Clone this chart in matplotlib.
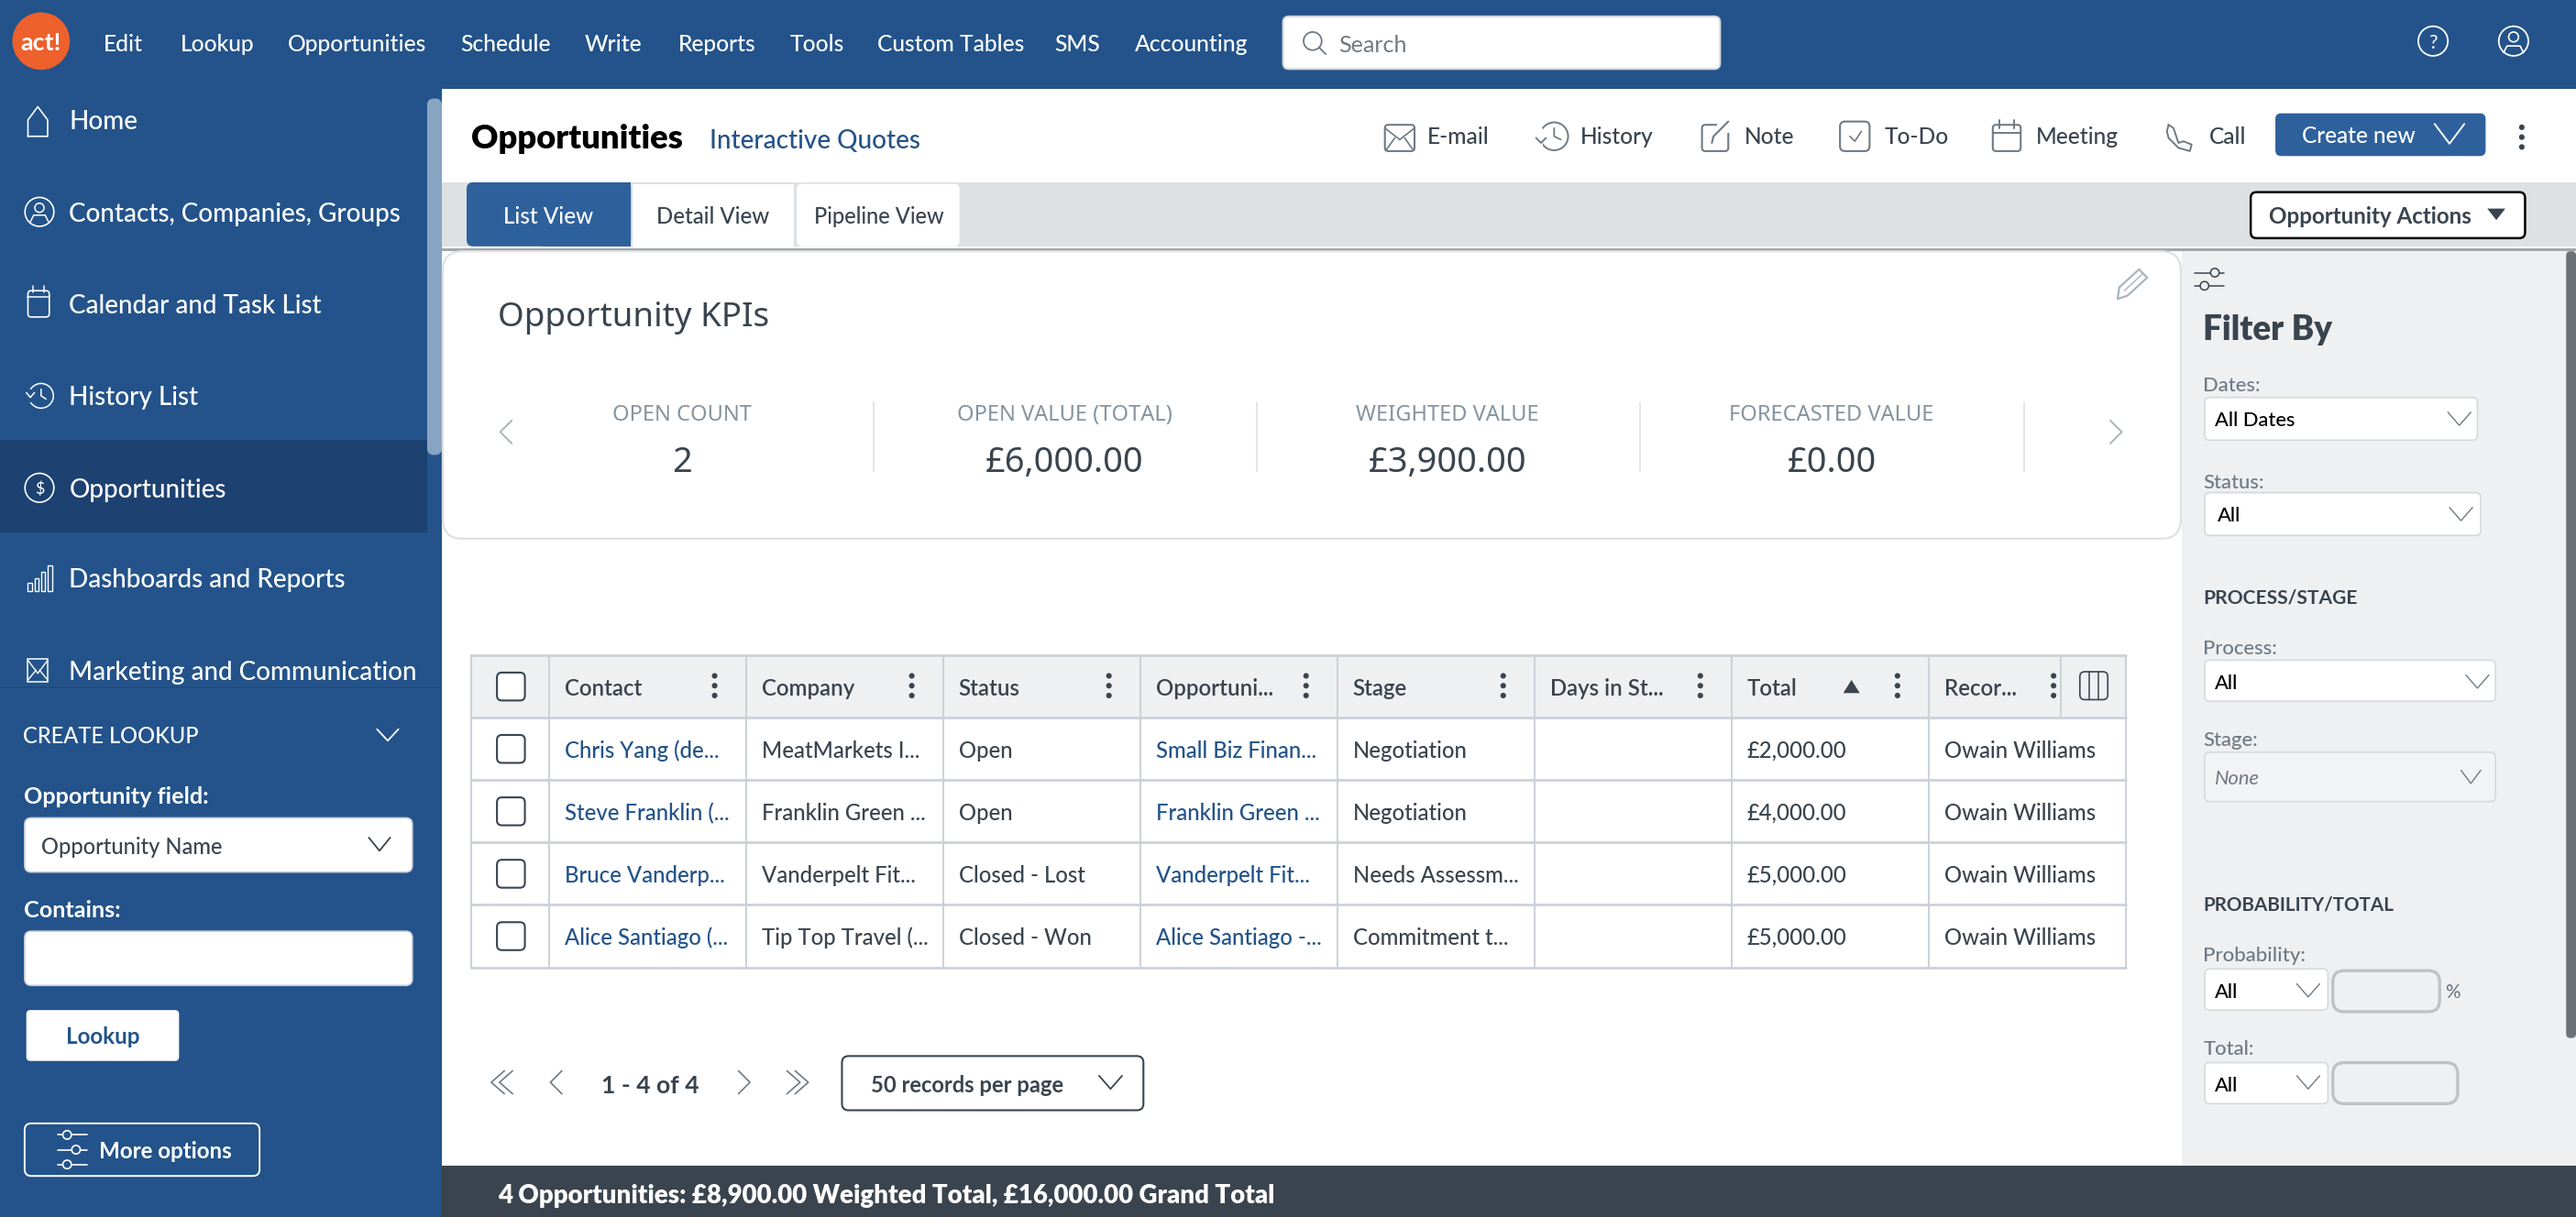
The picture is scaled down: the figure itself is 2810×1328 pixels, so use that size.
from matplotlib import pyplot as plt
from matplotlib.patches import FancyBboxPatch, Circle, Rectangle, Polygon

plt.rcParams["font.family"] = ["Lato", "DejaVu Sans"]

menu_labels = ["Edit", "Lookup", "Opportunities", "Schedule", "Write", "Reports", "Tools", "Custom Tables", "SMS", "Accounting"]
menu_x = [63, 110, 175, 280, 356, 413, 481, 534, 642, 691]
nav_labels = ["Home", "Contacts, Companies, Groups", "Calendar and Task List", "History List", "Opportunities", "Dashboards and Reports", "Marketing and Communication"]
nav_y = [73, 129, 185, 241, 297, 352, 408]
action_labels = ["E-mail", "History", "Note", "To-Do", "Meeting", "Call"]
action_x = [869, 962, 1062, 1147, 1239, 1345]
tab_labels = ["List View", "Detail View", "Pipeline View"]
kpi_labels = ["OPEN COUNT", "OPEN VALUE (TOTAL)", "WEIGHTED VALUE", "FORECASTED VALUE"]
kpi_values = ["2", "£6,000.00", "£3,900.00", "£0.00"]
kpi_x = [415, 648, 881, 1115]
columns = ["Contact", "Company", "Status", "Opportuni...", "Stage", "Days in St...", "Total", "Recor..."]
contacts = ["Chris Yang (de...", "Steve Franklin (...", "Bruce Vanderp...", "Alice Santiago (..."]
companies = ["MeatMarkets I...", "Franklin Green ...", "Vanderpelt Fit...", "Tip Top Travel (..."]
statuses = ["Open", "Open", "Closed - Lost", "Closed - Won"]
opportunities = ["Small Biz Finan...", "Franklin Green ...", "Vanderpelt Fit...", "Alice Santiago -..."]
stages = ["Negotiation", "Negotiation", "Needs Assessm...", "Commitment t..."]
totals = ["£2,000.00", "£4,000.00", "£5,000.00", "£5,000.00"]
owners = ["Owain Williams", "Owain Williams", "Owain Williams", "Owain Williams"]

BLUE = "#23538A"
BTN = "#2E619C"
DARK = "#1D4170"
LINE = "#CDD2D9"
PANEL = "#EEF0F2"
INK = "#3A444E"
LINK = "#23538A"
GREY = "#6F7A84"
KPI = "#85949F"

fig = plt.figure(figsize=(28.1, 13.28), dpi=100)
ax = fig.add_axes([0, 0, 1, 1])
ax.set_xlim(0, 1568)
ax.set_ylim(741, 0)
ax.axis("off")


def box(x0, y0, x1, y1, r=0, fc="white", ec="none", lw=0, z=1):
    if r == 0:
        ax.add_patch(Rectangle((x0, y0), x1 - x0, y1 - y0, fc=fc, ec=ec, lw=lw, zorder=z))
    else:
        ax.add_patch(FancyBboxPatch((x0, y0), x1 - x0, y1 - y0, boxstyle=f"round,pad=0,rounding_size={r}", fc=fc, ec=ec, lw=lw, zorder=z))


def txt(x, y, s, size=14, color=INK, ha="left", weight="normal", **kw):
    # size is css px on the 1568 wide picture
    ax.text(x, y, s, fontsize=size * 1.29, color=color, ha=ha, va="center_baseline", fontweight=weight, zorder=5, **kw)


def pl(xs, ys, color=INK, lw=1.5, z=4):
    ax.plot(xs, ys, color=color, lw=lw, zorder=z, solid_capstyle="round", solid_joinstyle="round")


def chev(x, y, w, h, color=GREY, lw=1.5):
    pl([x - w, x, x + w], [y - h, y + h, y - h], color, lw)


def side(x, y, w, h, color=GREY, lw=1.5):
    # w > 0 points right
    pl([x - w, x + w, x - w], [y - h, y, y + h], color, lw)


def ring(x, y, r, color, lw=1.5, fc="none"):
    ax.add_patch(Circle((x, y), r, fc=fc, ec=color, lw=lw, zorder=4))


def dots(x, y, color=INK):
    for d in (-6, 0, 6):
        ax.add_patch(Circle((x, y + d), 1.7, fc=color, ec="none", zorder=4))


def sliders(x, y, w, color, lw=1.4, n=2):
    gap = 8 if n == 2 else 9
    ys = [y - gap / 2, y + gap / 2] if n == 2 else [y - gap, y, y + gap]
    kn = [x + w * 0.35, x - w * 0.35, x - w * 0.35][:n] if n == 2 else [x - w * 0.35, x + w * 0.25, x - w * 0.35]
    for yy, k in zip(ys, kn):
        pl([x - w, x + w], [yy, yy], color, lw)
        ring(k, yy, 2.6, color, lw, fc=BLUE if color == "white" else PANEL)


# page areas
box(0, 0, 1568, 54, fc=BLUE)
box(0, 54, 269, 741, fc=BLUE)
box(0, 268, 260, 324, fc=DARK)
box(260, 60, 269, 277, r=4, fc="#87A4C2")
box(269, 111, 1568, 150, fc="#DDE1E4")
box(269, 151, 1568, 153, fc="#A3A6A8")
box(1328, 153, 1568, 710, fc=PANEL)
box(1562, 153, 1568, 632, r=2.5, fc="#6B7278", z=3)
box(269, 710, 1568, 741, fc=INK)

# top bar
ax.add_patch(Circle((25, 25), 17.5, fc="#EE602C", ec="none", zorder=3))
txt(25, 25, "act!", 15, "white", ha="center", weight="bold")
for label, x in zip(menu_labels, menu_x):
    txt(x, 26, label, 13.75, "white", weight=500)
box(781, 10, 1047, 42, r=3.5, fc="white", ec="#D5D8DC", lw=1.5)
ring(799, 25, 5.5, GREY, 1.3)
pl([803, 807], [29, 33], GREY, 1.3)
txt(815, 26.5, "Search", 14, GREY)
ring(1481, 25, 9, "white", 1.3)
txt(1481, 25, "?", 12, "white", ha="center")
ring(1530, 25, 9, "white", 1.3)
ring(1530, 22.5, 3, "white", 1.2)
pl([1524, 1526, 1534, 1536], [32, 28, 28, 32], "white", 1.2)

# side menu
for label, y in zip(nav_labels, nav_y):
    txt(42, y, label, 15.55, "white", weight=500)
pl([17, 17, 23, 29, 29, 17], [83, 73, 65, 73, 83, 83], "white", 1.2)
ring(24, 129, 8.8, "white", 1.2)
ring(24, 126.5, 2.8, "white", 1.1)
pl([18.5, 20.5, 27.5, 29.5], [135, 131, 131, 135], "white", 1.1)
box(17, 177, 30, 193, r=2, fc="none", ec="white", lw=1.2, z=4)
pl([17, 30], [181, 181], "white", 1.1)
pl([20, 20], [174, 178], "white", 1.1)
pl([27, 27], [174, 178], "white", 1.1)
ring(25, 241, 7.5, "white", 1.1)
box(16, 237, 20, 245, fc=BLUE, z=4)
pl([16, 18.5, 21], [239, 242, 239], "white", 1.1, z=5)
pl([25, 25, 28], [237, 241, 243], "white", 1.1)
ring(24, 297, 8.8, "white", 1.2)
txt(24, 297, "$", 10, "white", ha="center")
for bx, h in zip([17, 21, 25, 29], [5, 8, 12, 16]):
    box(bx, 360 - h, bx + 2.6, 360, fc="none", ec="white", lw=1, z=4)
box(17, 401, 29, 415, fc="none", ec="white", lw=1.1, z=4)
pl([17, 23, 29], [402, 410, 402], "white", 1)
pl([17, 22], [414, 408], "white", 1)
pl([29, 24], [414, 408], "white", 1)

# lookup panel
box(0, 419, 260, 741, fc=BLUE, z=2)
ax.add_patch(Rectangle((0, 418), 269, 1, fc="#1F4B7E", ec="none", zorder=3))
txt(14, 447.5, "CREATE LOOKUP", 13.2, "white", weight=500)
chev(236, 447.5, 6.5, 3.5, "white", 1.3)
txt(14.5, 484, "Opportunity field:", 14, "white", weight="bold")
box(15, 498, 251, 531, r=4, fc="white", ec="#C9CFD6", lw=1.2, z=3)
txt(25, 514.5, "Opportunity Name", 13.2, INK, weight=500)
chev(231, 514, 6.5, 4, INK, 1.3)
txt(14.5, 553, "Contains:", 14, "white", weight="bold")
box(15, 567, 251, 600, r=4, fc="white", ec="#C9CFD6", lw=1.2, z=3)
box(16, 615, 109, 646, r=2.5, fc="white", z=3)
txt(62.5, 630.5, "Lookup", 13.5, BLUE, ha="center", weight="bold")
box(15, 684, 158, 716, r=4, fc=BLUE, ec="white", lw=1.4, z=3)
sliders(44, 700, 9, "white", 1.2, n=3)
txt(60, 700, "More options", 13.5, "white", weight="bold")

# page title and actions
txt(287, 83, "Opportunities", 20.3, "black", weight="heavy")
txt(432, 84.5, "Interactive Quotes", 15.6, LINK, weight=500)
for label, x in zip(action_labels, action_x):
    txt(x, 82.5, label, 13.7, INK, weight=500)
box(843, 76, 861, 92, r=2, fc="none", ec=GREY, lw=1.5, z=4)
pl([843, 852, 861], [78, 85, 78], GREY, 1.2)
pl([844, 849], [91, 84], GREY, 1.2)
pl([860, 855], [91, 84], GREY, 1.2)
ring(946, 83, 8.5, GREY, 1.4)
box(933, 78, 939, 90, fc="white", z=4)
pl([935, 938, 941], [84, 87, 84], GREY, 1.4, z=5)
pl([946, 946, 950], [78, 83, 85], GREY, 1.3, z=5)
box(1036, 76, 1052, 92, r=2, fc="none", ec=GREY, lw=1.5, z=4)
box(1045, 73, 1054, 81, fc="white", z=4)
pl([1042, 1043, 1052], [87, 83, 74], GREY, 1.5, z=5)
box(1120, 74, 1138, 92, r=3, fc="none", ec=GREY, lw=1.5, z=4)
pl([1126, 1129, 1133], [83, 86, 80], GREY, 1.2)
box(1213, 76, 1230, 92, r=2, fc="none", ec=GREY, lw=1.5, z=4)
pl([1213, 1230], [81, 81], GREY, 1.4)
pl([1217, 1217], [73, 78], GREY, 1.4)
pl([1226, 1226], [73, 78], GREY, 1.4)
pl([1320, 1319, 1320, 1326, 1333, 1334, 1329, 1326, 1323, 1320], [76, 80, 84, 90, 92, 88, 86, 87, 78, 76], GREY, 1.4)
box(1385, 69, 1513, 95, r=3.5, fc=BTN)
txt(1401, 82, "Create new", 13.6, "white", weight=500)
chev(1491, 81.5, 9, 6, "white", 1.4)
dots(1535, 83.5, INK)

# tabs
box(284, 111, 384, 150, r=4, fc=BTN)
box(330, 111, 384, 150, fc=BTN)
box(385, 112, 483, 150, fc="white")
box(485, 112, 584, 150, r=3, fc="white")
txt(334, 131, tab_labels[0], 13.5, "white", ha="center", weight=500)
txt(434, 131, tab_labels[1], 13.4, INK, ha="center", weight=500)
txt(535, 131, tab_labels[2], 13.2, INK, ha="center", weight=500)
box(1370, 117, 1537, 145, r=3.5, fc="white", ec="black", lw=1.8)
txt(1381, 131, "Opportunity Actions", 13.5, INK, weight="bold")
ax.add_patch(Polygon([[1514, 127], [1525, 127], [1519.5, 134]], fc=INK, ec="none", zorder=4))

# KPI card
box(269.5, 153, 1327.5, 328, r=12, fc="white", ec="#DDE1E4", lw=1.6)
ax.text(303, 191, "Opportunity KPIs", fontsize=20.5 * 1.29, color=INK, family="Noto Sans", va="center_baseline", zorder=5)
for label, val, x in zip(kpi_labels, kpi_values, kpi_x):
    ax.text(x, 251, label, fontsize=13.2 * 1.29, color=KPI, family="Noto Sans", ha="center", va="center_baseline", zorder=5)
    ax.text(x, 279, val, fontsize=21.2 * 1.29, color=INK, family="Noto Sans", fontweight=500, ha="center", va="center_baseline", zorder=5)
for x in (532, 765, 998, 1232):
    pl([x, x], [245, 287], "#DDE1E4", 1.2)
side(308, 263, -3.5, 7, "#A9B4BD", 1.4)
side(1288, 263, 3.5, 7, "#A9B4BD", 1.4)
pl([1290, 1302, 1307, 1295, 1289, 1290], [175, 164, 169, 180, 182, 175], "#A9B4BD", 1.6)
pl([1293, 1304], [177, 167], "#A9B4BD", 1)

# table
col_left = [334, 454, 574, 694, 814, 934, 1054, 1174]
row_top = [437, 475, 513, 551]
box(287, 399, 1294, 437, fc=PANEL)
box(287, 437, 1294, 589, fc="white")
for x in [287, 334, 454, 574, 694, 814, 934, 1054, 1174, 1294]:
    pl([x, x], [399, 589], LINE, 1.5, z=2)
pl([1254.5, 1254.5], [399, 436], LINE, 1.5, z=2)
for y in [399, 437, 475, 513, 551, 589]:
    pl([287, 1294], [y, y], LINE, 2, z=2)
for y in [418] + [t + 19 for t in row_top]:
    box(302.5, y - 8.5, 319.5, y + 8.5, r=3, fc="white", ec=INK, lw=1.5, z=3)
for i, (label, x) in enumerate(zip(columns, col_left)):
    txt(x + 9.5, 418, label, 13.4, INK, weight=600)
    dots(x + (101 if i < 7 else 76), 417.5)
ax.add_patch(Polygon([[1122, 422], [1132, 422], [1127, 414]], fc=INK, ec="none", zorder=4))
box(1266, 409, 1283, 426, r=3, fc="none", ec=INK, lw=1.2, z=4)
pl([1271.5, 1271.5], [409, 426], INK, 1.1)
pl([1277.5, 1277.5], [409, 426], INK, 1.1)
table_cols = [contacts, companies, statuses, opportunities, stages, None, totals, owners]
for col, x in zip(table_cols, col_left):
    if col is None:
        continue
    color = LINK if col is contacts or col is opportunities else INK
    for val, top in zip(col, row_top):
        txt(x + 9.5, top + 19, val, 13.3, color, weight=500)

# pager
for dx in (0, 5):
    side(303 + dx, 659, -4, 7, GREY, 1.2)
side(338.5, 659, -3.5, 7, GREY, 1.2)
txt(395.5, 660, "1 - 4 of 4", 14.8, INK, ha="center", weight="bold")
side(453, 659, 3.5, 7, GREY, 1.2)
for dx in (0, 5):
    side(483 + dx, 659, 4, 7, GREY, 1.2)
box(512.5, 643, 696, 676, r=4, fc="white", ec=INK, lw=1.5)
txt(530, 660, "50 records per page", 13.25, INK, weight="bold")
chev(676, 659, 7, 4, INK, 1.3)

# filter panel
sliders(1345, 170, 9, INK, 1.1, n=2)
txt(1341, 199, "Filter By", 20.5, INK, weight="heavy")
txt(1341, 234, "Dates:", 12.3, GREY, weight=500)
box(1342, 242, 1508, 268, r=3, fc="white", ec="#D5D9DE", lw=1.2)
txt(1348, 255, "All Dates", 12.2, "black", weight=500)
chev(1497, 255, 7, 4, GREY, 1)
txt(1341, 293, "Status:", 12.3, GREY, weight=500)
box(1342, 300, 1510, 326, r=3, fc="white", ec="#D5D9DE", lw=1.2)
txt(1350, 313, "All", 12.2, "black", weight=500)
chev(1498, 313, 7, 4, GREY, 1)
txt(1341, 363, "PROCESS/STAGE", 11.7, INK, weight="bold")
txt(1341, 394, "Process:", 12.3, GREY, weight=500)
box(1342, 402, 1519, 427, r=3, fc="white", ec="#D5D9DE", lw=1.2)
txt(1348, 415, "All", 12.2, "black", weight=500)
chev(1508, 415, 7, 4, GREY, 1)
txt(1341, 450, "Stage:", 12.3, GREY, weight=500)
box(1342, 458, 1519, 488, r=3, fc="#F2F3F5", ec="#D5D9DE", lw=1.2)
txt(1348, 473, "None", 12.2, GREY, style="italic")
chev(1504, 473, 6, 4, GREY, 1)
txt(1341, 550, "PROBABILITY/TOTAL", 11.5, INK, weight="bold")
txt(1341, 581, "Probability:", 12.4, GREY, weight=500)
box(1342, 590, 1417, 615, r=3, fc="white", ec="#D5D9DE", lw=1.2)
txt(1348, 603, "All", 12.2, "black", weight=500)
chev(1405, 603, 7, 4, GREY, 1)
box(1420, 591, 1485, 616, r=7, fc=PANEL, ec="#BFC2C5", lw=2.4)
txt(1488, 603, "%", 11.5, GREY, weight=500)
txt(1341, 638, "Total:", 12.3, GREY, weight=500)
box(1342, 647, 1417, 672, r=3, fc="white", ec="#D5D9DE", lw=1.2)
txt(1348, 660, "All", 12.2, "black", weight=500)
chev(1405, 659, 7, 4, GREY, 1)
box(1420, 647, 1496, 672, r=7, fc=PANEL, ec="#BFC2C5", lw=2.4)

# footer
txt(303, 727, "4 Opportunities: £8,900.00 Weighted Total, £16,000.00 Grand Total", 15.4, "white", weight="heavy")

fig.savefig("out.png", dpi=100)
